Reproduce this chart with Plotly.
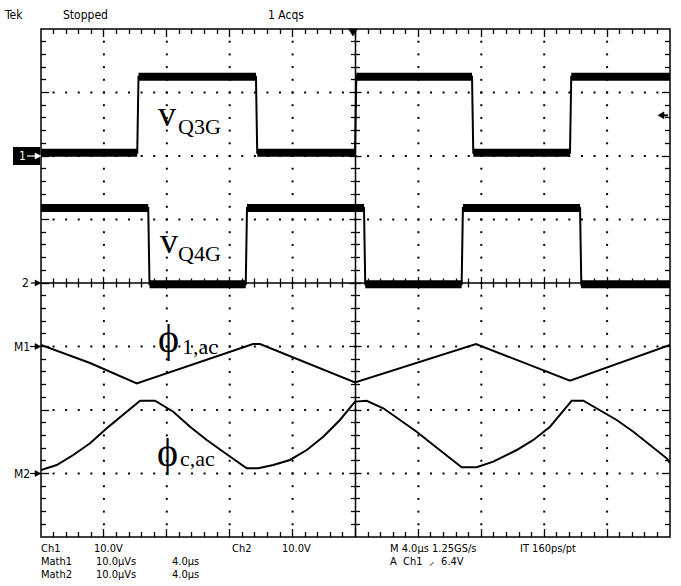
import plotly.graph_objects as go

T_DIV = 4.0                     # µs / div (M 4.0µs)
T_END = 40.0                    # 10 divisions

# Ch1 (v_Q3G): 10 V/div, ground marker at +2 div
ch1_edges = [6.12, 13.67, 19.97, 27.41, 33.64]       # µs, first edge rising
ch1_low, ch1_high = 0.5, 12.5                         # V
ch1_start_high = False

# Ch2 (v_Q4G): 10 V/div, ground marker at 0 div
ch2_edges = [6.82, 13.02, 20.54, 26.75, 34.28]       # µs, first edge falling
ch2_low, ch2_high = -0.2, 11.8                        # V
ch2_start_high = True

# Math1 (phi_1,ac): 10 µVs/div, marker at -1 div
m1_t = [0.0, 3.12, 6.09, 13.48, 13.93, 19.97, 27.66, 33.64, 40.0]
m1_v = [0.24, -2.60, -5.80, 0.39, 0.39, -5.65, 0.39, -5.39, 0.24]

# Math2 (phi_c,ac): 10 µVs/div, marker at -3 div
m2_t = [0.0, 1.0, 2.05, 3.12, 4.18, 5.23, 6.30, 7.25, 8.41, 9.48, 10.54, 11.59,
        12.66, 13.08, 13.82, 14.77, 15.83, 16.90, 17.95, 19.01, 19.97, 20.71,
        21.77, 22.83, 23.89, 24.95, 26.01, 26.75, 27.71, 28.76, 30.25, 31.31,
        32.37, 33.43, 33.75, 34.49, 35.55, 36.61, 37.67, 38.73, 39.79, 40.0]
m2_v = [0.55, 1.34, 2.91, 4.76, 7.12, 9.21, 11.46, 11.46, 9.73, 7.37, 5.28, 3.43,
        1.61, 0.82, 0.82, 1.34, 2.13, 3.70, 5.80, 8.43, 11.32, 11.46,
        10.27, 8.43, 6.58, 4.49, 2.39, 0.98, 0.98, 1.86, 3.70, 5.28,
        7.37, 10.52, 11.46, 11.46, 10.0, 8.43, 6.58, 4.49, 2.39, 1.61]

# channel display settings (scale per div, position in div)
CH1_SCALE, CH1_POS = 10.0, 2.0
CH2_SCALE, CH2_POS = 10.0, 0.0
M1_SCALE, M1_POS = 10.0, -1.0
M2_SCALE, M2_POS = 10.0, -3.0
TRIG_LEVEL = 6.4   # V on Ch1

# ---------------- figure geometry ----------------
W, H = 681, 586
L, R, T, B = 41, 11, 29, 49
PW, PH = W - L - R, H - T - B

fig = go.Figure()
INK = "black"
shapes = []


def px(x):
    return (x - L) / PW


def py(y):
    return (H - B - y) / PH


def xpix(t):
    return L + t / T_END * PW


def ypix(div):
    return T + (4 - div) * PH / 8.0


def pline(x0, y0, x1, y1, w=1.2, col=INK):
    shapes.append(dict(type="line", xref="paper", yref="paper",
                       x0=px(x0), y0=py(y0), x1=px(x1), y1=py(y1),
                       line=dict(color=col, width=w)))


def ptri(pts, col=INK):
    p = "M" + "L".join("{:.5f},{:.5f}".format(px(a), py(b)) for a, b in pts) + "Z"
    shapes.append(dict(type="path", xref="paper", yref="paper", path=p,
                       line=dict(color=col, width=0.5), fillcolor=col))


def square(edges, low, high, start_high, rise=0.08):
    lv = [low, high]
    cur = 1 if start_high else 0
    t, v = [0.0], [lv[cur]]
    flats_t, flats_v = [], []
    seg_start = 0.0
    for e in edges:
        flats_t += [seg_start, e, None]
        flats_v += [lv[cur], lv[cur], None]
        t += [e, e + rise]
        v += [lv[cur], lv[1 - cur]]
        cur = 1 - cur
        seg_start = e + rise
    t.append(T_END)
    v.append(lv[cur])
    flats_t += [seg_start, T_END]
    flats_v += [lv[cur], lv[cur]]
    return t, v, flats_t, flats_v


def to_div(vals, scale, pos):
    return [None if x is None else pos + x / scale for x in vals]


# ---------------- graticule ----------------
dot_x, dot_y = [], []
for d in range(1, 10):
    if d == 5:
        continue
    for k in range(1, 40):
        dot_x.append(d * T_DIV)
        dot_y.append(-4 + k * 0.2)
for d in range(-3, 4):
    if d == 0:
        continue
    for k in range(1, 50):
        dot_x.append(k * 0.2 * T_DIV)
        dot_y.append(d)
fig.add_trace(go.Scatter(x=dot_x, y=dot_y, mode="markers",
                         marker=dict(symbol="square", size=2, color=INK, line=dict(width=0)),
                         hoverinfo="skip", showlegend=False))

# tick marks (pixel-snapped shapes)
x_left, x_right = xpix(0), xpix(T_END)
y_top, y_bot = ypix(4), ypix(-4)
x_mid, y_mid = xpix(T_END / 2), ypix(0)
TW = 1.3
for k in range(1, 50):
    x = int(xpix(k * 0.2 * T_DIV)) + 0.5
    major = k % 5 == 0
    c = 6 if major else 4.5
    pline(x, y_mid - c, x, y_mid + c, TW)
    b = 8 if major else 5
    pline(x, y_top, x, y_top + b, TW)
    pline(x, y_bot, x, y_bot - b, TW)
for k in range(1, 40):
    y = int(ypix(-4 + k * 0.2)) + 0.5
    major = k % 5 == 0
    c = 6 if major else 4.5
    pline(x_mid - c, y, x_mid + c, y, TW)
    b = 8 if major else 5
    pline(x_left, y, x_left + b, y, TW)
    pline(x_right, y, x_right - b, y, TW)
pline(x_left, y_mid, x_right, y_mid, 1.5)
pline(x_mid, y_top, x_mid, y_bot, 1.5)

# ---------------- waveforms ----------------
for edges, lo, hi, sh, sc, pos in [
        (ch1_edges, ch1_low, ch1_high, ch1_start_high, CH1_SCALE, CH1_POS),
        (ch2_edges, ch2_low, ch2_high, ch2_start_high, CH2_SCALE, CH2_POS)]:
    t, v, ft, fv = square(edges, lo, hi, sh)
    fig.add_trace(go.Scatter(x=t, y=to_div(v, sc, pos), mode="lines",
                             line=dict(color=INK, width=2, simplify=False),
                             hoverinfo="skip", showlegend=False))
    fig.add_trace(go.Scatter(x=ft, y=to_div(fv, sc, pos), mode="lines",
                             line=dict(color=INK, width=8, simplify=False),
                             hoverinfo="skip", showlegend=False))

fig.add_trace(go.Scatter(x=m1_t, y=to_div(m1_v, M1_SCALE, M1_POS), mode="lines",
                         line=dict(color=INK, width=2), hoverinfo="skip", showlegend=False))
fig.add_trace(go.Scatter(x=m2_t, y=to_div(m2_v, M2_SCALE, M2_POS), mode="lines",
                         line=dict(color=INK, width=2), hoverinfo="skip", showlegend=False))

# trigger markers
ty_px = ypix(CH1_POS + TRIG_LEVEL / CH1_SCALE)
pline(662, ty_px, 668, ty_px, 2)
ptri([(658, ty_px), (664, ty_px - 3.5), (664, ty_px + 3.5)])
tx_px = xpix(4.96 * T_DIV)
ptri([(tx_px - 4.5, y_top), (tx_px + 4.5, y_top), (tx_px, y_top + 7)])

# frame
shapes.append(dict(type="rect", xref="paper", yref="paper", x0=0, x1=1, y0=0, y1=1,
                   line=dict(color=INK, width=1.5)))
# ch1 marker box
c1 = ypix(CH1_POS)
shapes.append(dict(type="rect", xref="paper", yref="paper", x0=px(13), x1=px(40),
                   y0=py(c1 + 9), y1=py(c1 - 9), line=dict(width=0), fillcolor=INK,
                   layer="below"))

# ground / reference arrows on left
for pos, x_start in [(CH1_POS, 27), (CH2_POS, 31), (M1_POS, 30), (M2_POS, 30)]:
    col = "white" if pos == CH1_POS else INK
    yp = ypix(pos)
    pline(x_start, yp, 37, yp, 1.2, col)
    ptri([(35, yp - 3), (41, yp), (35, yp + 3)], col)

ann = []
SANS = "Liberation Sans Narrow, DejaVu Sans Condensed, Liberation Sans, sans-serif"
SERIF = "Liberation Serif, Times New Roman, serif"


def text(s, x, y, size=11, family=SANS, color=INK, xanchor="left"):
    ann.append(dict(text=s, x=px(x), y=py(y), xref="paper", yref="paper", showarrow=False,
                    xanchor=xanchor, yanchor="middle", font=dict(family=family, size=size, color=color),
                    borderpad=0))


# left markers
text("1", 18, c1, 12, color="white")
text("2", 21, ypix(CH2_POS), 12)
text("M1", 13, ypix(M1_POS), 12)
text("M2", 13, ypix(M2_POS), 12)

# header
text("Tek", 3, 15, 12)
text("Stopped", 62, 15, 12)
text("1 Acqs", 267, 15, 12)

# footer
rows = [548, 561, 574]
text("Ch1", 40, rows[0]); text("10.0V", 93, rows[0])
text("Ch2", 231, rows[0]); text("10.0V", 281, rows[0])
text("M 4.0µs 1.25GS/s", 389, rows[0]); text("IT 160ps/pt", 519, rows[0])
text("Math1", 40, rows[1]); text("10.0µVs", 95, rows[1]); text("4.0µs", 171, rows[1])
text("A  Ch1  ⸝  6.4V", 389, rows[1])
text("Math2", 40, rows[2]); text("10.0µVs", 95, rows[2]); text("4.0µs", 171, rows[2])

# trace labels
text("v", 157, 114, 36, SERIF)
text("Q3G", 177, 126, 22, SERIF)
text("v", 159, 241, 36, SERIF)
text("Q4G", 177, 253, 22, SERIF)
text("ϕ", 157, 338, 40, SERIF)
text("1,ac", 181, 346, 22, SERIF)
text("ϕ", 156, 452, 40, SERIF)
text("c,ac", 179, 458, 22, SERIF)

fig.update_layout(
    width=W, height=H, margin=dict(l=L, r=R, t=T, b=B),
    paper_bgcolor="white", plot_bgcolor="white",
    xaxis=dict(range=[0, T_END], visible=False, fixedrange=True),
    yaxis=dict(range=[-4, 4], visible=False, fixedrange=True),
    annotations=ann, shapes=shapes, showlegend=False,
)
fig.write_html("out.html")
